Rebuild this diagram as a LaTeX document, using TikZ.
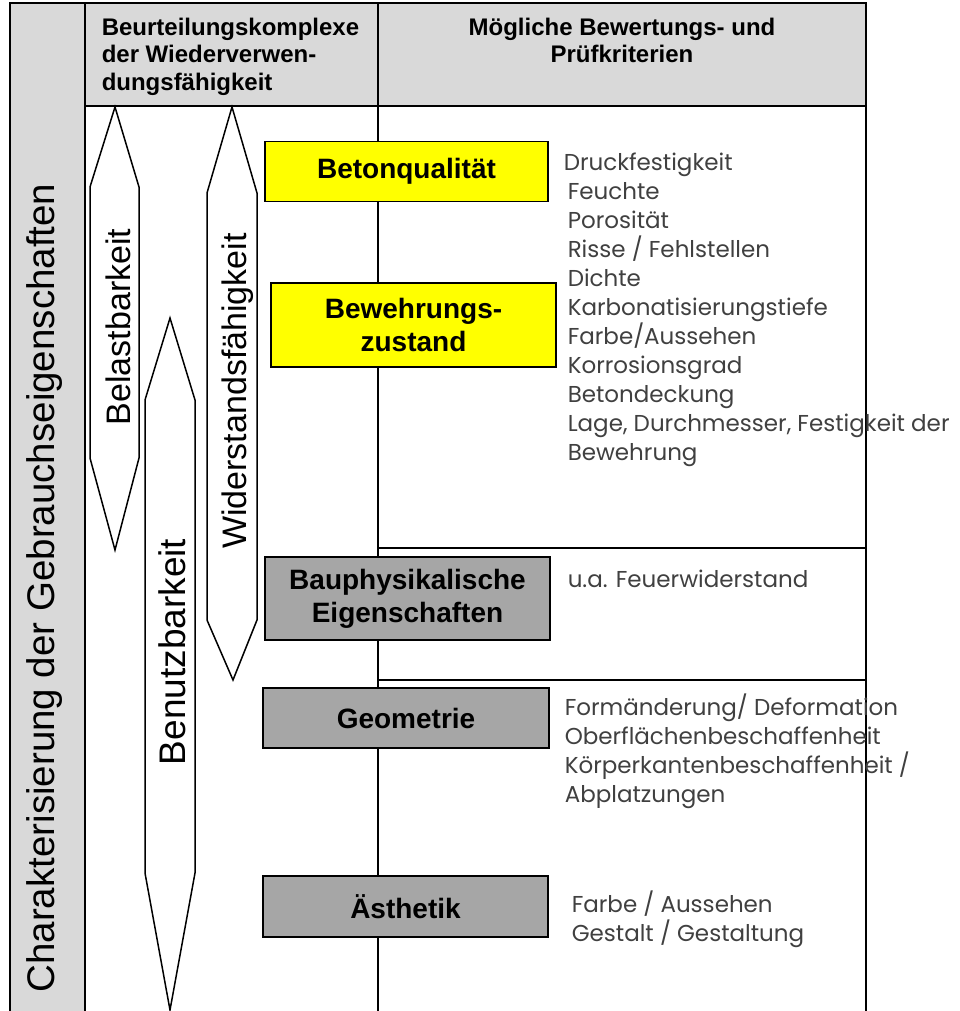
\documentclass[tikz,border=0pt]{standalone}
\usepackage{fontspec}
\setmainfont{Liberation Sans}
\newfontfamily\listfont{Poppins}
\definecolor{kopfgrau}{HTML}{D9D9D9}
\definecolor{kastengrau}{HTML}{A6A6A6}
\definecolor{kastengelb}{HTML}{FFFF00}
\begin{document}
\begin{tikzpicture}[x=1pt, y=-1pt, line width=1.5pt,
        kriterium/.style={draw, rectangle, inner sep=0pt, align=center,
            font=\fontsize{28}{33}\selectfont\bfseries},
        pfeil/.style={draw, fill=white, line join=miter},
        pfeiltext/.style={rotate=90, inner sep=0pt, font=\fontsize{34}{40}\selectfont},
        liste/.style={anchor=north west, align=left, inner sep=0pt, text=black!75,
            font=\listfont\fontsize{23}{29}\selectfont}]
    \useasboundingbox (0,0) rectangle (959,1011);

    \fill[kopfgrau] (85,3) rectangle (866,106);
    \fill[kopfgrau] (10,3) rectangle (85,1011);
    \draw (10,1011) -- (10,3) -- (866,3) -- (866,1011);
    \draw (85,3) -- (85,1011);
    \draw (85,106) -- (866,106);
    \draw (378,3) -- (378,1011);
    \draw (378,548) -- (866,548);
    \draw (378,680) -- (866,680);

    \node[anchor=north west, align=left, inner sep=0pt, font=\fontsize{24}{27.5}\selectfont\bfseries]
        (komplexe) at (101,17) {Beurteilungskomplexe\\der Wiederverwen-\\dungsfähigkeit};
    \node[anchor=north, align=center, inner sep=0pt, font=\fontsize{24}{27.5}\selectfont\bfseries]
        (kriterien) at (622,17) {Mögliche Bewertungs- und\\Prüfkriterien};
    \node[rotate=90, inner sep=0pt, font=\fontsize{38.5}{40}\selectfont]
        (titel) at (45,588) {Charakterisierung der Gebrauchseigenschaften};

    \draw[pfeil] (115,107) -- (139,187) -- (139,458) -- (115,550) -- (90,458) -- (90,187) -- cycle;
    \draw[pfeil] (170,318) -- (195,400) -- (195,873) -- (170,1010) -- (145,873) -- (145,400) -- cycle;
    \draw[pfeil] (232,107) -- (257,193) -- (257,620) -- (233,680) -- (207,620) -- (207,193) -- cycle;
    \node[pfeiltext] (belast) at (118,327) {Belastbarkeit};
    \node[pfeiltext, font=\fontsize{37}{40}\selectfont] (benutz) at (172,652) {Benutzbarkeit};
    \node[pfeiltext] (widerstand) at (238,391) {Widerstandsfähigkeit};

    \node[kriterium, fill=kastengelb, minimum width=283pt, minimum height=60pt]
        (beton) at (406.5,171.5) {Betonqualität};
    \node[kriterium, fill=kastengelb, minimum width=285pt, minimum height=84pt]
        (bewehrung) at (413.5,325) {Bewehrungs-\\zustand};
    \node[kriterium, fill=kastengrau, minimum width=285pt, minimum height=83pt]
        (bauphysik) at (407.5,598.5) {Bauphysikalische\\Eigenschaften};
    \node[kriterium, fill=kastengrau, minimum width=286pt, minimum height=60pt]
        (geometrie) at (406,718) {Geometrie};
    \node[kriterium, fill=kastengrau, minimum width=285pt, minimum height=61pt]
        (aesthetik) at (405.5,906.5) {Ästhetik};

    \node[liste] (betonliste) at (567,152) {\hspace*{-4pt}Druckfestigkeit\\Feuchte\\Porosität\\Risse / Fehlstellen\\Dichte\\Karbonatisierungstiefe\\Farbe/Aussehen\\Korrosionsgrad\\Betondeckung\\Lage, Durchmesser, Festigkeit der\\Bewehrung};
    \node[liste] (bauphysikliste) at (567,569) {u.a. Feuerwiderstand};
    \node[liste] (geometrieliste) at (564,693) {Formänderung/ Deformation\\Oberflächenbeschaffenheit\\Körperkantenbeschaffenheit /\\Abplatzungen};
    \node[liste] (aesthetikliste) at (571,890) {Farbe / Aussehen\\Gestalt / Gestaltung};
\end{tikzpicture}
\end{document}
